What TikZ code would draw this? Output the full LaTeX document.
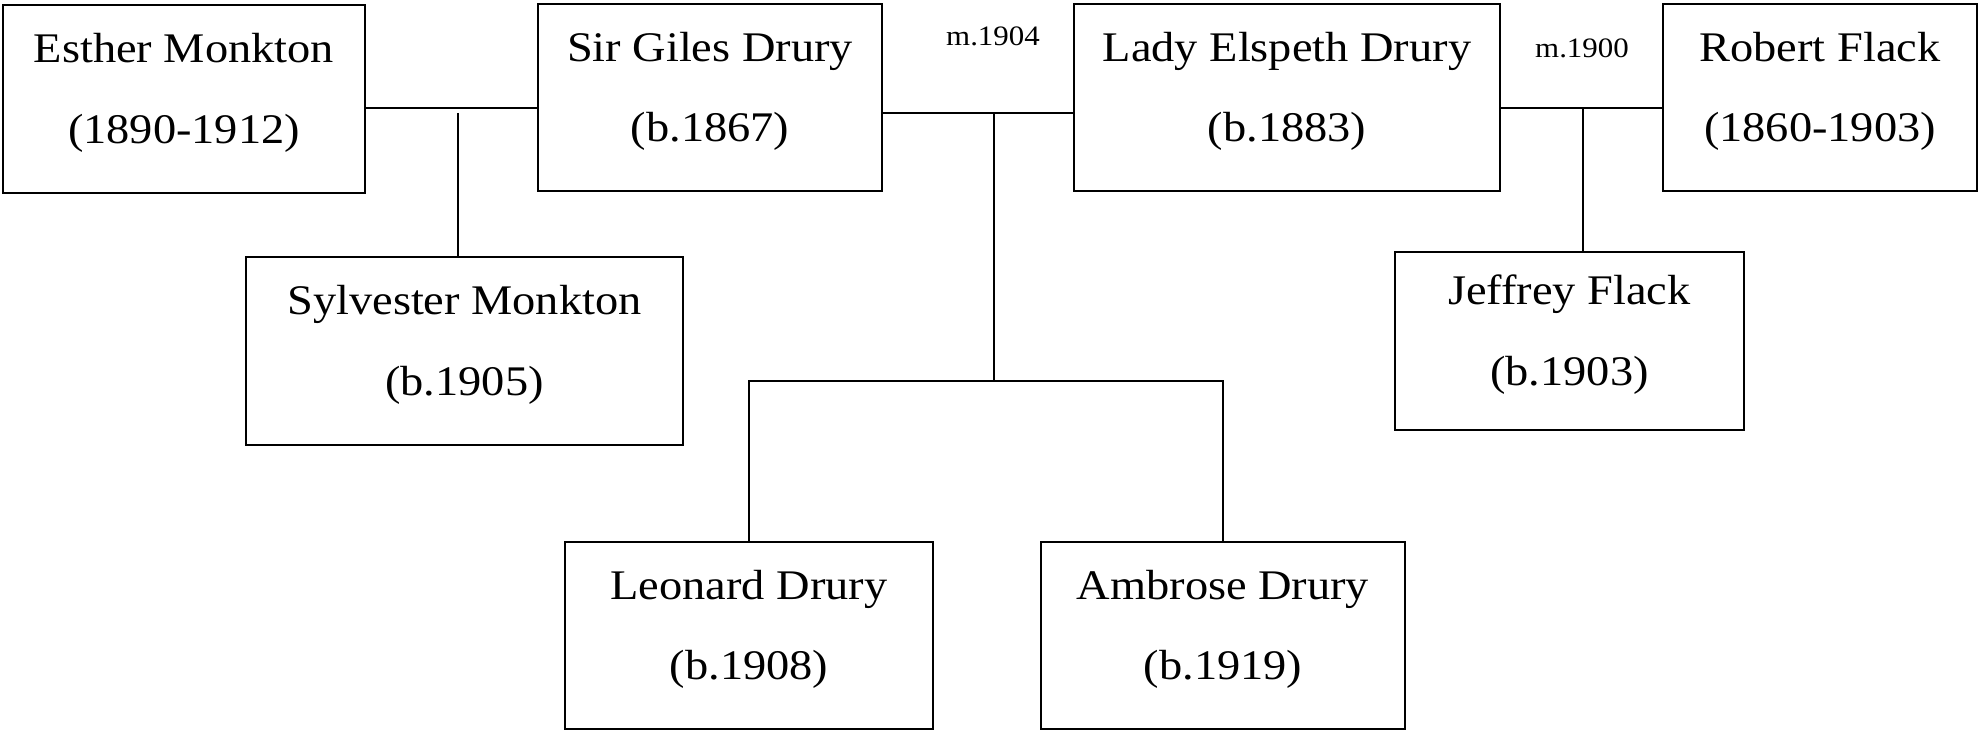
\documentclass[tikz,border=0pt]{standalone}
\usepackage{fontspec}
\setmainfont[FakeStretch=1.1]{Liberation Serif}
\begin{document}
\begin{tikzpicture}[x=0.02cm, y=-0.02cm,
    person/.style={draw=black, line width=1.1pt, minimum height=3.74cm, inner sep=0pt, outer sep=0pt, align=center, font=\fontsize{24}{46}\selectfont, execute at end node={\rule[-12pt]{0pt}{0pt}}},
    wed/.style={font=\fontsize{16}{19}\selectfont, anchor=base, inner sep=0pt},
    tie/.style={line width=0.8pt}]
    \useasboundingbox (0,0) rectangle (1980,732);

    \node[person, minimum width=7.24cm, minimum height=3.76cm] (esther) at (184,99) {Esther Monkton\\(1890-1912)};
    \node[person, minimum width=6.88cm] (giles) at (710,97.5) {Sir Giles Drury\\(b.1867)};
    \node[person, minimum width=8.52cm] (elspeth) at (1287,97.5) {Lady Elspeth Drury\\(b.1883)};
    \node[person, minimum width=6.28cm] (robert) at (1820,97.5) {Robert Flack\\(1860-1903)};
    \node[person, minimum width=8.74cm, minimum height=3.76cm] (sylvester) at (464.5,351) {Sylvester Monkton\\(b.1905)};
    \node[person, minimum width=6.98cm, minimum height=3.56cm] (jeffrey) at (1569.5,341) {Jeffrey Flack\\(b.1903)};
    \node[person, minimum width=7.36cm] (leonard) at (749,635.5) {Leonard Drury\\(b.1908)};
    \node[person, minimum width=7.28cm] (ambrose) at (1223,635.5) {Ambrose Drury\\(b.1919)};

    \node[wed] (m1904) at (993,46) {m.1904};
    \node[wed] (m1900) at (1582,58) {m.1900};

    \coordinate (wed1) at (458,108);
    \coordinate (wed2) at (994,113);
    \coordinate (wed3) at (1583,108);
    \coordinate (kids) at (994,381);

    \draw[tie] (esther.east |- wed1) -- (giles.west |- wed1);
    \draw[tie] ([yshift=-0.1cm]wed1) -- (sylvester.north -| wed1);

    \draw[tie] (giles.east |- wed2) -- (elspeth.west |- wed2);
    \draw[tie] (wed2) -- (kids);
    \draw[tie] (leonard.north) -- (leonard.north |- kids) -- (ambrose.north |- kids) -- (ambrose.north);

    \draw[tie] (elspeth.east |- wed3) -- (robert.west |- wed3);
    \draw[tie] (wed3) -- (jeffrey.north -| wed3);
\end{tikzpicture}
\end{document}
